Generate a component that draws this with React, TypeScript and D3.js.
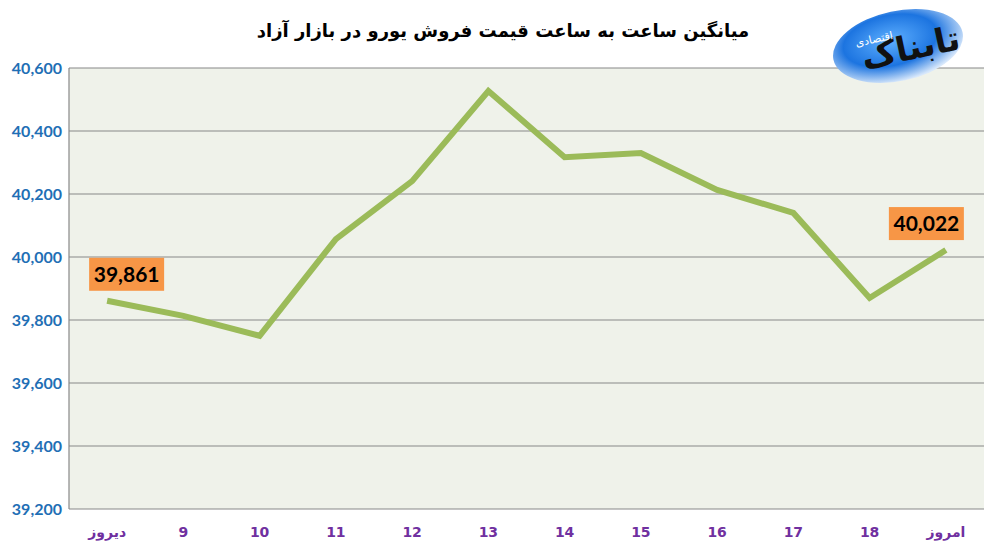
import React from 'react';
import * as d3 from 'd3';

const title = 'میانگین ساعت به ساعت قیمت فروش یورو در بازار آزاد';
const categories = ['دیروز', '9', '10', '11', '12', '13', '14', '15', '16', '17', '18', 'امروز'];
const prices = [39861, 39813, 39750, 40057, 40241, 40527, 40317, 40330, 40213, 40140, 39870, 40022];
const yTicks = [39200, 39400, 39600, 39800, 40000, 40200, 40400, 40600];
// which points carry a value box, and how far the box sits left of the point
const labelled = [0, 11];
const labelShift = [18, 57];

const W = 993;
const H = 554;
const margin = { top: 68, right: 9, bottom: 45, left: 69 };

export default function App() {
  const x = d3.scaleBand<string>()
    .domain(categories)
    .range([margin.left, W - margin.right]);
  const y = d3.scaleLinear()
    .domain([39200, 40600])
    .range([H - margin.bottom, margin.top]);
  const cx = (c: string) => (x(c) ?? 0) + x.bandwidth() / 2;

  const line = d3.line<number>()
    .x((d, i) => cx(categories[i]))
    .y(d => y(d));

  const fmt = d3.format(',');

  return (
    <svg width={W} height={H} style={{ position: 'absolute', left: 0, top: 0, background: '#fff' }}>
      <defs>
        <radialGradient id="logoGrad" cx="45%" cy="40%" r="60%">
          <stop offset="0%" stopColor="#5fb0ff" />
          <stop offset="60%" stopColor="#1c74e0" />
          <stop offset="100%" stopColor="#d8e8fb" />
        </radialGradient>
      </defs>

      <text x={503} y={37} textAnchor="middle" direction="rtl"
        style={{ fontFamily: 'DejaVu Sans', fontWeight: 'bold', fontSize: 18 }}>{title}</text>

      <rect x={margin.left} y={margin.top} width={W - margin.left - margin.right}
        height={H - margin.bottom - margin.top} fill="#eff2ea" />

      {yTicks.map(t => (
        <g key={t}>
          <line x1={margin.left} x2={W - margin.right} y1={y(t)} y2={y(t)} stroke="#888" strokeWidth={1.2} />
          <text x={62} y={y(t)} dy="0.35em" textAnchor="end" fill="#1f6fb5"
            style={{ fontFamily: 'Lato', fontWeight: 'bold', fontSize: 16 }}>{fmt(t)}</text>
        </g>
      ))}
      <line x1={margin.left} x2={margin.left} y1={margin.top} y2={H - margin.bottom} stroke="#888" strokeWidth={1.2} />

      {categories.map(c => (
        <text key={c} x={cx(c)} y={537} textAnchor="middle" fill="#7030a0"
          style={{ fontFamily: 'DejaVu Sans', fontWeight: 'bold', fontSize: 14 }}>{c}</text>
      ))}

      <path d={line(prices) ?? ''} fill="none" stroke="#9bbb59" strokeWidth={6} strokeLinejoin="miter" />

      {labelled.map((i, k) => {
        const px = cx(categories[i]);
        const py = y(prices[i]);
        const left = px - labelShift[k];
        return (
          <g key={i}>
            <rect x={left} y={py - 43} width={75} height={33} fill="#f79646" />
            <text x={left + 37.5} y={py - 26} dy="0.35em" textAnchor="middle" fill="#000"
              style={{ fontFamily: 'Lato', fontWeight: 'bold', fontSize: 21 }}>{fmt(prices[i])}</text>
          </g>
        );
      })}

      <g transform="translate(898,46) rotate(-12)">
        <ellipse rx={66} ry={35} fill="url(#logoGrad)" />
        <text x={12} y={16} textAnchor="middle" direction="rtl" fill="#111"
          style={{ fontFamily: 'DejaVu Sans', fontWeight: 'bold', fontSize: 34 }}>تابناک</text>
        <text x={-22} y={-8} textAnchor="middle" direction="rtl" fill="#fff"
          style={{ fontFamily: 'DejaVu Sans', fontSize: 11 }}>اقتصادی</text>
      </g>
    </svg>
  );
}
